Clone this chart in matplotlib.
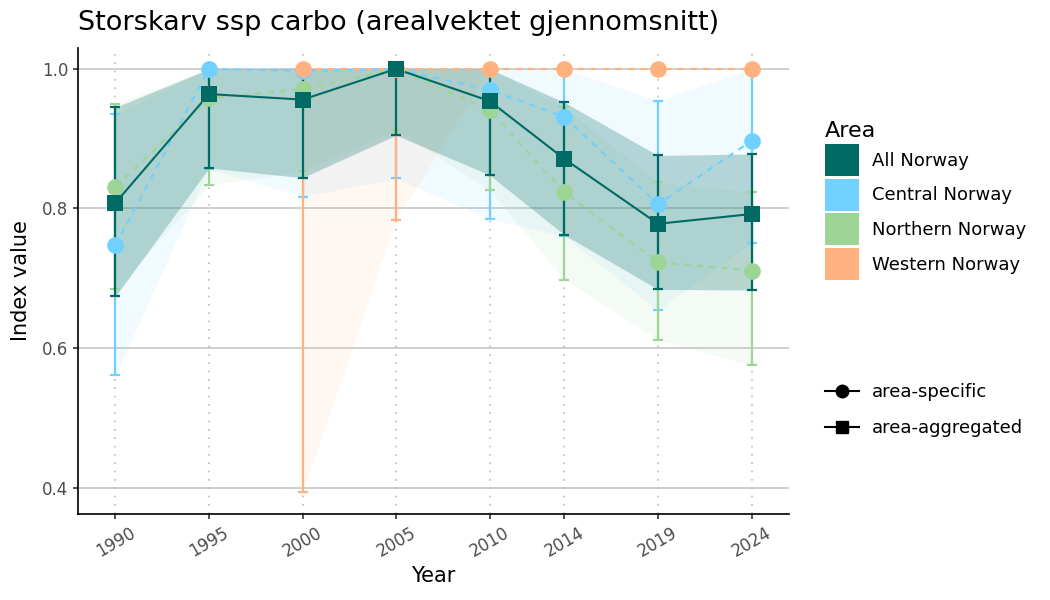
import matplotlib
matplotlib.use('Agg')
import matplotlib.pyplot as plt
from matplotlib.patches import Patch
from matplotlib.lines import Line2D
import numpy as np

years = [1990, 1995, 2000, 2005, 2010, 2014, 2019, 2024]

all_norway = [0.808, 0.964, 0.956, 1.0, 0.954, 0.871, 0.778, 0.792]
all_lo = [0.674, 0.858, 0.844, 0.905, 0.848, 0.762, 0.684, 0.683]
all_hi = [0.945, 1.0, 1.0, 1.0, 1.0, 0.952, 0.876, 0.878]

central = [0.747, 1.0, 0.997, 1.0, 0.970, 0.931, 0.806, 0.897]
central_lo = [0.561, 0.857, 0.817, 0.843, 0.785, 0.760, 0.654, 0.751]
central_hi = [0.936, 1.0, 1.0, 1.0, 1.0, 1.0, 0.954, 1.0]

northern = [0.831, 0.958, 0.971, 1.0, 0.941, 0.823, 0.723, 0.711]
northern_lo = [0.684, 0.833, 0.854, 0.912, 0.827, 0.698, 0.612, 0.575]
northern_hi = [0.950, 1.0, 1.0, 1.0, 1.0, 0.945, 0.838, 0.823]

western_years = [2000, 2005, 2010, 2014, 2019, 2024]
western = [1.0, 1.0, 1.0, 1.0, 1.0, 1.0]
western_lo = [0.393, 0.783, 1.0, 1.0, 1.0, 1.0]
western_hi = [1.0, 1.0, 1.0, 1.0, 1.0, 1.0]

c_all = '#006A64'
c_central = '#70D0FF'
c_northern = '#9CD595'
c_western = '#FFB27F'

fig = plt.figure(figsize=(10.5, 6), dpi=100)
ax = fig.add_axes([0.0743, 0.1433, 0.6771, 0.7767])

# (x, y, lo, hi, colour, ribbon alpha, style, marker)
series = [
    (years, central, central_lo, central_hi, c_central, 0.1, (0, (3, 3)), 'o'),
    (years, northern, northern_lo, northern_hi, c_northern, 0.1, (0, (3, 3)), 'o'),
    (western_years, western, western_lo, western_hi, c_western, 0.1, (0, (3, 3)), 'o'),
    (years, all_norway, all_lo, all_hi, c_all, 0.25, '-', 's'),
]

for x, y, lo, hi, col, a, ls, mk in series:
    ax.fill_between(x, lo, hi, color=col, alpha=a, linewidth=0, zorder=1)

for x, y, lo, hi, col, a, ls, mk in series:
    ax.plot(x, y, color=col, linestyle=ls, linewidth=1.5, zorder=2)
    y = np.array(y)
    err = [y - np.array(lo), np.array(hi) - y]
    ax.errorbar(x, y, yerr=err, fmt='none', ecolor=col, elinewidth=1.6,
                capsize=3.5, capthick=1.6, zorder=3)

for x, y, lo, hi, col, a, ls, mk in series:
    if mk == 'o':
        ax.plot(x, y, 'o', color=col, markersize=12, markeredgewidth=0, zorder=4)
    else:
        ax.plot(x, y, 's', color=col, markersize=11, markeredgewidth=0, zorder=5)

ax.set_xlim(1988.0, 2026.0)
ax.set_ylim(0.362, 1.030)
ax.set_xticks(years)
ax.set_xticklabels([str(y) for y in years], rotation=30, ha='center', va='top')
ax.set_yticks([0.4, 0.6, 0.8, 1.0])
ax.set_yticklabels(['0.4', '0.6', '0.8', '1.0'])

for yy in [0.4, 0.6, 0.8, 1.0]:
    ax.axhline(yy, color='#CCCCCC', linewidth=1.3, zorder=0)
for xx in years:
    ax.axvline(xx, color='#BBBBBB', linewidth=1.2, linestyle=(0, (1, 4)), zorder=0)

for s in ['top', 'right']:
    ax.spines[s].set_visible(False)
for s in ['left', 'bottom']:
    ax.spines[s].set_linewidth(1.2)
ax.tick_params(axis='both', colors='#333333', labelsize=12, length=3.5, width=1.2)
ax.tick_params(axis='both', labelcolor='#4D4D4D')

ax.set_xlabel('Year', fontsize=15, labelpad=4)
ax.set_ylabel('Index value', fontsize=15, labelpad=8)
fig.text(0.0743, 0.95, 'Storskarv ssp carbo (arealvektet gjennomsnitt)', fontsize=19.5,
         ha='left', va='baseline')

area_handles = [Patch(facecolor=c, edgecolor='none') for c in [c_all, c_central, c_northern, c_western]]
leg1 = fig.legend(area_handles, ['All Norway', 'Central Norway', 'Northern Norway', 'Western Norway'],
                  title='Area', loc='upper left', bbox_to_anchor=(0.779, 0.81), frameon=False,
                  fontsize=13, title_fontsize=16, handlelength=1.85, handleheight=2.35,
                  labelspacing=0.15, handletextpad=0.75, borderaxespad=0)
leg1._legend_box.align = 'left'

shape_handles = [
    Line2D([0], [0], color='black', marker='o', markersize=9, linewidth=1.5),
    Line2D([0], [0], color='black', marker='s', markersize=9, linewidth=1.5),
]
fig.legend(shape_handles, ['area-specific', 'area-aggregated'], loc='upper left',
           bbox_to_anchor=(0.779, 0.373), frameon=False, fontsize=13,
           handlelength=1.85, labelspacing=0.97, handletextpad=0.75, borderaxespad=0)

fig.savefig('out.png', dpi=100)
